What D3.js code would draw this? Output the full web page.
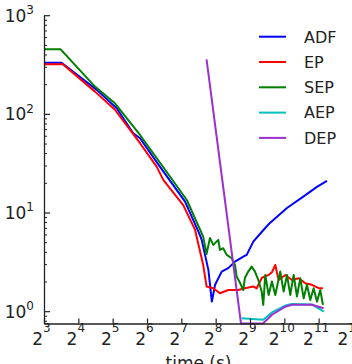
<!DOCTYPE html>
<html>
<head>
<meta charset="utf-8">
<script src="https://cdn.jsdelivr.net/npm/d3@7"></script>
<style>
  body { margin: 0; background: #fff; }
  svg { display: block; font-family: "DejaVu Sans", sans-serif; }
</style>
</head>
<body>
<div id="chart"></div>
<script>
// data: [time (s), value]
const adf = [[8, 330], [11.4, 330], [23.2, 175], [34.7, 114], [48.5, 63.6], [55.6, 56.6], [83, 29.2],
    [138, 12.9], [186, 5.93], [193, 5.28], [221, 2.62], [237, 1.25], [253, 1.85], [289, 2.52], [330, 2.73],
    [378, 3.18], [447, 3.57], [479, 3.72], [547, 5.07], [693, 6.93], [766, 7.85], [1080, 11.1],
    [1491, 14.4], [1978, 18.2], [2420, 20.9]];
const ep = [[8, 318], [11.7, 318], [22.4, 168], [33.5, 110], [55.6, 50.4], [77.8, 29.2], [88.9, 21.4],
    [133, 11.9], [169, 6.66], [199, 2.94], [213, 1.78], [244, 1.71], [279, 1.52], [330, 1.64], [404, 1.64],
    [462, 1.71], [547, 1.78], [585, 1.7], [620, 1.95], [652, 2.18], [746, 2.33], [800, 2.5], [853, 2.94],
    [913, 2.07], [1044, 2.33], [1194, 2.07], [1367, 2.16], [1562, 1.92], [1788, 1.85], [2048, 1.71], [2233, 1.71]];
const sep = [[8, 451], [11.2, 451], [22.4, 189], [33.5, 128], [55.6, 61.1], [86.1, 30.3], [143, 13.4],
    [199, 5.7], [213, 3.8], [228, 5.53], [244, 4.7], [270, 5.28], [279, 4.18], [298, 4.35], [320, 3.72],
    [354, 3.44], [378, 2.95], [391, 2.25], [418, 1.94], [447, 1.64], [462, 2.17], [494, 2.52], [529, 2.83],
    [566, 2.52], [605, 2.08], [648, 1.58], [669, 1.16], [697, 2.33], [746, 1.46], [797, 2.0], [853, 1.46],
    [943, 2.52], [1010, 1.58], [1080, 2.33], [1154, 1.46], [1236, 2.33], [1321, 1.41], [1413, 2.16],
    [1513, 1.35], [1617, 1.85], [1729, 1.30], [1851, 1.71], [1979, 1.25], [2115, 1.64], [2233, 1.16]];
const aep = [[433, 0.85], [500, 0.84], [669, 0.82], [797, 0.97], [1044, 1.14], [1194, 1.18], [1788, 1.17], [2270, 0.99]];
const dep = [[213, 357], [427, 0.75], [665, 0.75], [798, 0.92], [1044, 1.11], [1194, 1.16], [1788, 1.16], [2264, 1.07]];

const seriesNames = ["ADF", "EP", "SEP", "AEP", "DEP"];
const seriesColors = ["#0000ff", "#ff0000", "#008000", "#00bfbf", "#9b30d0"];
const xTickExps = [3, 4, 5, 6, 7, 8, 9, 10, 11, 12];
const yTickExps = [0, 1, 2, 3];

const width = 352;
const height = 364;
const margin = {t: 15.2, b: 323.5, l: 44, r: 353};

const svg = d3.select("#chart")
    .append("svg")
    .attr("width", width)
    .attr("height", height);

const xScale = d3.scaleLog().base(2)
    .domain([8, 4096])
    .range([margin.l, margin.r]);
const yScale = d3.scaleLog()
    .domain([0.75, 1000])
    .range([margin.b, margin.t]);

// lines
const line = d3.line()
    .x(d => xScale(d[0]))
    .y(d => yScale(d[1]));
[adf, ep, sep, aep, dep].forEach((s, i) => {
    svg.append("path")
        .datum(s)
        .attr("d", line)
        .attr("fill", "none")
        .attr("stroke", seriesColors[i])
        .attr("stroke-width", 2)
        .attr("stroke-linejoin", "round");
});

// x axis
const gx = svg.append("g")
    .attr("transform", `translate(0, ${margin.b})`)
    .call(d3.axisBottom(xScale)
        .tickValues(xTickExps.map(e => Math.pow(2, e)))
        .tickSize(-5)
        .tickSizeOuter(0));
gx.select(".domain").attr("stroke", "#222").attr("stroke-width", 1.3);
gx.selectAll(".tick line").attr("stroke", "#222").attr("stroke-width", 1.2);
gx.selectAll(".tick text").each(function(d, i) {
    const t = d3.select(this)
        .text(null)
        .attr("y", 21.5)
        .attr("dy", null)
        .attr("x", -3)
        .attr("fill", "#222")
        .attr("font-size", 17)
        .attr("font-family", "DejaVu Sans")
        .attr("text-anchor", "middle");
    t.append("tspan").text("2");
    t.append("tspan").attr("font-size", 12).attr("dy", -13.5).text(xTickExps[i]);
});

// y axis minor ticks
const minorTicks = yScale.ticks().filter(v => Math.abs(Math.log10(v) - Math.round(Math.log10(v))) > 1e-6);
svg.append("g")
    .attr("transform", `translate(${margin.l}, 0)`)
    .call(d3.axisLeft(yScale).tickValues(minorTicks).tickSize(-3).tickSizeOuter(0).tickFormat(""))
    .call(g => g.select(".domain").remove())
    .call(g => g.selectAll(".tick line").attr("stroke", "#222").attr("stroke-width", 1));

// y axis major
const gy = svg.append("g")
    .attr("transform", `translate(${margin.l}, 0)`)
    .call(d3.axisLeft(yScale)
        .tickValues(yTickExps.map(e => Math.pow(10, e)))
        .tickSize(-6)
        .tickSizeOuter(0));
gy.select(".domain").attr("stroke", "#222").attr("stroke-width", 1.3);
gy.selectAll(".tick line").attr("stroke", "#222").attr("stroke-width", 1.2);
gy.selectAll(".tick text").each(function(d, i) {
    const t = d3.select(this)
        .text(null)
        .attr("x", -10)
        .attr("y", 6)
        .attr("dy", null)
        .attr("fill", "#222")
        .attr("font-size", 17)
        .attr("font-family", "DejaVu Sans")
        .attr("text-anchor", "end");
    t.append("tspan").text("10");
    t.append("tspan").attr("font-size", 12).attr("dy", -7.6).text(yTickExps[i]);
});

// x label
svg.append("text")
    .attr("x", (margin.l + margin.r) / 2)
    .attr("y", 369)
    .attr("text-anchor", "middle")
    .attr("font-size", 17)
    .attr("fill", "#222")
    .text("time (s)");

// legend
const legend = svg.append("g").attr("transform", "translate(259, 36.7)");
seriesNames.forEach((name, i) => {
    const row = legend.append("g").attr("transform", `translate(0, ${i * 25.3})`);
    row.append("line")
        .attr("x1", 0).attr("x2", 27)
        .attr("y1", 0).attr("y2", 0)
        .attr("stroke", seriesColors[i])
        .attr("stroke-width", 2);
    row.append("text")
        .attr("x", 45)
        .attr("y", 5.8)
        .attr("font-size", 16)
        .attr("fill", "#222")
        .text(name);
});
</script>
</body>
</html>
